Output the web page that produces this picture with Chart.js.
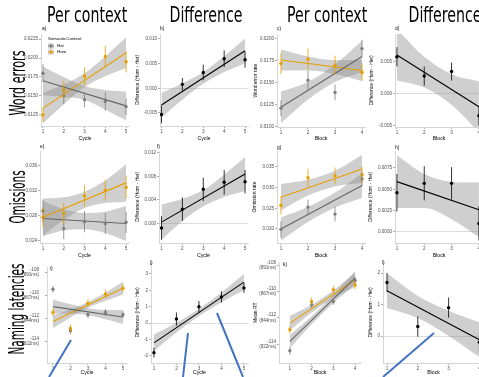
<!DOCTYPE html>
<html>
<head>
<meta charset="utf-8">
<script src="https://cdn.jsdelivr.net/npm/chart.js@4.4.0/dist/chart.umd.min.js"></script>
<style>
  body { margin: 0; background: #fff; }
  #fig { position: relative; width: 479px; height: 377px; overflow: hidden; background: #fff; }
  #fig canvas { position: absolute; }
  .lbl { position: absolute; white-space: nowrap; line-height: 1; color: #000;
         font-family: "Liberation Sans Narrow", "DejaVu Sans Condensed", "Roboto", sans-serif;
         font-stretch: condensed; font-size: 22px; }
  svg { position: absolute; left: 0; top: 0; }
</style>
</head>
<body>
<div id="fig"></div>
<script>
// ---- data ----
const cycles = [1, 2, 3, 4, 5];
const blocks = [1, 2, 3, 4];

// a) word errors per context by cycle
const aHet = [0.0180, 0.0150, 0.0145, 0.0143, 0.0136];
const aHetErr = [0.0012, 0.0011, 0.0010, 0.0012, 0.0011];
const aHom = [0.0125, 0.0158, 0.0176, 0.0202, 0.0195];
const aHomErr = [0.0009, 0.0012, 0.0012, 0.0014, 0.0014];
const aHetFit = [0.0170, 0.0137];
const aHomFit = [0.0134, 0.0207];
const aHetLo = [0.0151, 0.0149, 0.0145, 0.0132, 0.0118];
const aHetHi = [0.0189, 0.0175, 0.0163, 0.0158, 0.0156];
const aHomLo = [0.0114, 0.0139, 0.0162, 0.0176, 0.0187];
const aHomHi = [0.0154, 0.0165, 0.0180, 0.0202, 0.0227];

// b) word errors difference by cycle
const bDiff = [-0.0053, 0.0008, 0.0032, 0.0060, 0.0058];
const bErr = [0.0018, 0.0013, 0.0016, 0.0017, 0.0016];
const bFit = [-0.0034, 0.0076];
const bLo = [-0.0059, -0.0023, 0.0009, 0.0033, 0.0051];
const bHi = [-0.0009, 0.0010, 0.0033, 0.0065, 0.0101];

// c) word error rate per context by block
const cHet = [0.0121, 0.0153, 0.0139, 0.0189];
const cHetErr = [0.0009, 0.0011, 0.0009, 0.0010];
const cHom = [0.0172, 0.0177, 0.0170, 0.0162];
const cHomErr = [0.0012, 0.0012, 0.0011, 0.0010];
const cHetFit = [0.0122, 0.0180];
const cHomFit = [0.0176, 0.0164];
const cHetLo = [0.0104, 0.0131, 0.0151, 0.0162];
const cHetHi = [0.0140, 0.0151, 0.0171, 0.0198];
const cHomLo = [0.0164, 0.0164, 0.0160, 0.0152];
const cHomHi = [0.0188, 0.0180, 0.0176, 0.0176];

// d) word errors difference by block
const dDiff = [0.0058, 0.0028, 0.0035, -0.0034];
const dErr = [0.0015, 0.0015, 0.0014, 0.0015];
const dFit = [0.0061, -0.0020];
const dLo = [0.0021, 0.0010, -0.0017, -0.0060];
const dHi = [0.0101, 0.0058, 0.0031, 0.0020];

// e) omissions per context by cycle
const eHet = [0.0288, 0.0260, 0.0271, 0.0268, 0.0270];
const eHetErr = [0.0018, 0.0017, 0.0017, 0.0017, 0.0017];
const eHom = [0.0278, 0.0284, 0.0312, 0.0321, 0.0326];
const eHomErr = [0.0016, 0.0017, 0.0017, 0.0017, 0.0018];
const eHetFit = [0.0276, 0.0268];
const eHomFit = [0.0278, 0.0333];
const eHetLo = [0.0248, 0.0257, 0.0259, 0.0253, 0.0240];
const eHetHi = [0.0304, 0.0291, 0.0285, 0.0287, 0.0296];
const eHomLo = [0.0248, 0.0274, 0.0293, 0.0301, 0.0303];
const eHomHi = [0.0308, 0.0310, 0.0319, 0.0337, 0.0363];

// f) omissions difference by cycle
const fDiff = [-0.0008, 0.0024, 0.0058, 0.0070, 0.0071];
const fErr = [0.0020, 0.0020, 0.0020, 0.0021, 0.0020];
const fFit = [0.0002, 0.0084];
const fLo = [-0.0028, 0.0004, 0.0029, 0.0045, 0.0055];
const fHi = [0.0032, 0.0042, 0.0057, 0.0083, 0.0113];

// g) omission rate per context by block
const gHet = [0.0199, 0.0253, 0.0236, 0.0321];
const gHetErr = [0.0020, 0.0018, 0.0018, 0.0018];
const gHom = [0.0257, 0.0324, 0.0329, 0.0331];
const gHomErr = [0.0022, 0.0022, 0.0020, 0.0020];
const gHetFit = [0.0200, 0.0305];
const gHomFit = [0.0277, 0.0345];
const gHetLo = [0.0172, 0.0217, 0.0252, 0.0275];
const gHetHi = [0.0228, 0.0253, 0.0288, 0.0335];
const gHomLo = [0.0245, 0.0281, 0.0303, 0.0311];
const gHomHi = [0.0309, 0.0319, 0.0341, 0.0379];

// h) omissions difference by block
const hDiff = [0.0046, 0.0057, 0.0057, 0.0010];
const hErr = [0.0022, 0.0020, 0.0019, 0.0020];
const hFit = [0.0059, 0.0026];
const hLo = [0.0028, 0.0028, 0.0015, -0.0006];
const hHi = [0.0090, 0.0068, 0.0059, 0.0058];

// i) naming latencies per context by cycle
const iHet = [-109.5, -113.1, -111.7, -111.5, -111.7];
const iHetErr = [0.3, 0.3, 0.3, 0.3, 0.3];
const iHom = [-111.5, -112.9, -110.7, -109.9, -109.4];
const iHomErr = [0.35, 0.35, 0.35, 0.35, 0.35];
const iHetFit = [-111.0, -111.9];
const iHomFit = [-112.3, -109.4];
const iHetLo = [-111.6, -111.6, -111.75, -112.1, -112.5];
const iHetHi = [-110.4, -110.8, -111.15, -111.3, -111.3];
const iHomLo = [-112.85, -111.95, -111.1, -110.5, -109.95];
const iHomHi = [-111.75, -111.25, -110.6, -109.8, -108.85];

// j) naming latencies difference by cycle
const jDiff = [-1.8, 0.25, 1.0, 1.6, 2.15];
const jErr = [0.3, 0.4, 0.35, 0.35, 0.3];
const jFit = [-1.2, 2.5];
const jLo = [-1.7, -0.575, 0.43, 1.275, 2.0];
const jHi = [-0.7, 0.025, 0.87, 1.875, 3.0];

// k) mean RT per context by block
const kHet = [-114.5, -111.0, -110.75, -109.15];
const kHetErr = [0.3, 0.25, 0.25, 0.25];
const kHom = [-112.9, -110.75, -109.85, -109.5];
const kHomErr = [0.3, 0.3, 0.3, 0.3];
const kHetFit = [-113.8, -108.95];
const kHomFit = [-112.4, -109.1];
const kHetLo = [-114.3, -112.48, -110.87, -109.45];
const kHetHi = [-113.3, -111.88, -110.27, -108.45];
const kHomLo = [-112.95, -111.6, -110.5, -109.65];
const kHomHi = [-111.85, -111.0, -109.9, -108.55];

// l) naming latencies difference by block
const lDiff = [1.7, 0.3, 0.9, -0.2];
const lErr = [0.3, 0.32, 0.32, 0.3];
const lFit = [1.44, -0.12];
const lLo = [0.89, 0.57, 0.0, -0.67];
const lHi = [1.99, 1.27, 0.8, 0.43];

// tick labels
const rtTicks = [-114, -112, -110, -108];
const rtLabels = [['-114', '(822ms)'], ['-112', '(844ms)'], ['-110', '(867ms)'], ['-108', '(891ms)']];

// ---- styles ----
const GRAY = '#7f7f7f';
const GRAY_LINE = '#666666';
const ORANGE = '#E69F00';
const BLACK = '#000000';
const BAND = 'rgba(140,140,140,0.42)';
const TICK = '#4d4d4d';
const FONT = '"Liberation Sans", Arial, sans-serif';

const het = (xs, v, e, fit, lo, hi) => ({ xs, v, e, fit, lo, hi, c: GRAY, line: GRAY_LINE });
const hom = (xs, v, e, fit, lo, hi) => ({ xs, v, e, fit, lo, hi, c: ORANGE, line: ORANGE });
const dif = (xs, v, e, fit, lo, hi) => ({ xs, v, e, fit, lo, hi, c: BLACK, line: BLACK });

const DIFF_TITLE = 'Difference (Hom - Het)';

const panels = [
  { tag: 'a)', dx: 1, dy: -5, cl: 20, axis: 41, right: 130, top: 34, bottom: 126, ctop: 26, cbot: 142,
    x: [0.905, 5.14], y: [0.01105, 0.02316], xs: cycles, xTitle: 'Cycle', yTitle: '',
    yTicks: [0.0125, 0.015, 0.0175, 0.02, 0.0225], yLabels: ['0.0125', '0.0150', '0.0175', '0.0200', '0.0225'],
    legend: true,
    series: [het(cycles, aHet, aHetErr, aHetFit, aHetLo, aHetHi), hom(cycles, aHom, aHomErr, aHomFit, aHomLo, aHomHi)] },
  { tag: 'b)', dx: 0, dy: -5, cl: 135, axis: 160, right: 249, top: 34, bottom: 126, ctop: 26, cbot: 142,
    x: [0.93, 5.14], y: [-0.00764, 0.01101], xs: cycles, xTitle: 'Cycle', yTitle: DIFF_TITLE, zero: true,
    yTicks: [-0.005, 0, 0.005, 0.01], yLabels: ['-0.005', '0.000', '0.005', '0.010'],
    series: [dif(cycles, bDiff, bErr, bFit, bLo, bHi)] },
  { tag: 'c)', dx: 0, dy: -5, cl: 253, axis: 277, right: 366, top: 34, bottom: 127, ctop: 26, cbot: 142,
    x: [0.854, 4.11], y: [0.00995, 0.02057], xs: blocks, xTitle: 'Block', yTitle: 'Word error rate',
    yTicks: [0.01, 0.0125, 0.015, 0.0175, 0.02], yLabels: ['0.0100', '0.0125', '0.0150', '0.0175', '0.0200'],
    series: [het(blocks, cHet, cHetErr, cHetFit, cHetLo, cHetHi), hom(blocks, cHom, cHomErr, cHomFit, cHomLo, cHomHi)] },
  { tag: 'd)', dx: 0, dy: -5, cl: 369, axis: 395, right: 484, top: 34, bottom: 127, ctop: 26, cbot: 142,
    x: [0.93, 4.15], y: [-0.00516, 0.00937], xs: blocks, xTitle: 'Block', yTitle: DIFF_TITLE, zero: true,
    yTicks: [-0.005, 0, 0.005], yLabels: ['-0.005', '0.000', '0.005'],
    series: [dif(blocks, dDiff, dErr, dFit, dLo, dHi)] },

  { tag: 'e)', dx: 0, dy: -4, cl: 22, axis: 40, right: 130, top: 151, bottom: 243, ctop: 144, cbot: 259,
    x: [0.86, 5.14], y: [0.02368, 0.0384], xs: cycles, xTitle: 'Cycle', yTitle: '',
    yTicks: [0.024, 0.028, 0.032, 0.036], yLabels: ['0.024', '0.028', '0.032', '0.036'],
    series: [het(cycles, eHet, eHetErr, eHetFit, eHetLo, eHetHi), hom(cycles, eHom, eHomErr, eHomFit, eHomLo, eHomHi)] },
  { tag: 'f)', dx: -2, dy: -4, cl: 135, axis: 159, right: 249, top: 151, bottom: 243, ctop: 144, cbot: 259,
    x: [0.88, 5.14], y: [-0.00336, 0.01234], xs: cycles, xTitle: 'Cycle', yTitle: DIFF_TITLE, zero: true,
    yTicks: [0, 0.004, 0.008, 0.012], yLabels: ['0.000', '0.004', '0.008', '0.012'],
    series: [dif(cycles, fDiff, fErr, fFit, fLo, fHi)] },
  { tag: 'g)', dx: 0, dy: -3, cl: 252, axis: 277, right: 366, top: 151, bottom: 243, ctop: 144, cbot: 259,
    x: [0.854, 4.11], y: [0.01661, 0.03887], xs: blocks, xTitle: 'Block', yTitle: 'Omission rate',
    yTicks: [0.02, 0.025, 0.03, 0.035], yLabels: ['0.020', '0.025', '0.030', '0.035'],
    series: [het(blocks, gHet, gHetErr, gHetFit, gHetLo, gHetHi), hom(blocks, gHom, gHomErr, gHomFit, gHomLo, gHomHi)] },
  { tag: 'h)', dx: 0, dy: -3, cl: 368, axis: 395, right: 484, top: 151, bottom: 243, ctop: 144, cbot: 259,
    x: [0.93, 4.15], y: [-0.00129, 0.00949], xs: blocks, xTitle: 'Block', yTitle: DIFF_TITLE, zero: true,
    yTicks: [0, 0.0025, 0.005, 0.0075], yLabels: ['0.0000', '0.0025', '0.0050', '0.0075'],
    series: [dif(blocks, hDiff, hErr, hFit, hLo, hHi)] },

  { tag: 'i)', dx: 3, dy: 1, cl: 22, axis: 47, right: 128, top: 262, bottom: 363, ctop: 256, cbot: 376,
    x: [0.66, 5.23], y: [-115.89, -107.59], xs: cycles, xTitle: 'Cycle', yTitle: '', tpad: 6,
    yTicks: rtTicks, yLabels: rtLabels,
    series: [het(cycles, iHet, iHetErr, iHetFit, iHetLo, iHetHi), hom(cycles, iHom, iHomErr, iHomFit, iHomLo, iHomHi)] },
  { tag: 'j)', dx: -1, dy: 1, cl: 135, axis: 151, right: 249, top: 262, bottom: 363, ctop: 256, cbot: 376,
    x: [0.87, 5.18], y: [-2.43, 3.73], xs: cycles, xTitle: 'Cycle', yTitle: DIFF_TITLE, zero: true,
    yTicks: [-2, -1, 0, 1, 2, 3], yLabels: ['-2', '-1', '0', '1', '2', '3'],
    series: [dif(cycles, jDiff, jErr, jFit, jLo, jHi)] },
  { tag: 'k)', dx: 4, dy: 2, cl: 253, axis: 279, right: 362, top: 262, bottom: 363, ctop: 256, cbot: 376,
    x: [0.5, 4.27], y: [-115.44, -107.77], xs: blocks, xTitle: 'Block', yTitle: 'Mean RT',
    yTicks: rtTicks, yLabels: rtLabels,
    series: [het(blocks, kHet, kHetErr, kHetFit, kHetLo, kHetHi), hom(blocks, kHom, kHomErr, kHomFit, kHomLo, kHomHi)] },
  { tag: 'l)', dx: -1, dy: 1, cl: 368, axis: 383, right: 485, top: 262, bottom: 363, ctop: 256, cbot: 376,
    x: [0.87, 4.15], y: [-0.857, 2.35], xs: blocks, xTitle: 'Block', yTitle: DIFF_TITLE, zero: true,
    yTicks: [0, 1, 2], yLabels: ['0', '1', '2'],
    series: [dif(blocks, lDiff, lErr, lFit, lLo, lHi)] }
];

// ---- plugins ----
const errorBars = {
  id: 'errorBars',
  afterDatasetsDraw(chart) {
    const ctx = chart.ctx, ys = chart.scales.y;
    chart.data.datasets.forEach((ds, di) => {
      if (!ds.errors) return;
      const meta = chart.getDatasetMeta(di);
      ctx.save();
      ctx.strokeStyle = ds.pointBackgroundColor;
      ctx.lineWidth = 0.8;
      meta.data.forEach((pt, i) => {
        const v = ds.data[i].y, e = ds.errors[i];
        ctx.beginPath();
        ctx.moveTo(pt.x, ys.getPixelForValue(v - e));
        ctx.lineTo(pt.x, ys.getPixelForValue(v + e));
        ctx.stroke();
      });
      ctx.restore();
    });
  }
};

const panelTag = {
  id: 'panelTag',
  afterDraw(chart, args, opts) {
    const ctx = chart.ctx, a = chart.chartArea;
    ctx.save();
    ctx.fillStyle = '#000';
    ctx.font = '4.8px ' + FONT;
    ctx.textBaseline = 'middle';
    ctx.fillText(opts.text, a.left + opts.dx, a.top + opts.dy);
    if (opts.legend) {
      const lx = a.left + 7, ly = a.top + 5;
      ctx.font = '4.4px ' + FONT;
      ctx.fillText('SemanticContext', lx, ly);
      [['Het', GRAY, GRAY_LINE], ['Hom', ORANGE, ORANGE]].forEach((k, i) => {
        const y = ly + 7 + i * 6;
        ctx.fillStyle = '#d4d4d4';
        ctx.fillRect(lx, y - 2.5, 6, 5);
        ctx.strokeStyle = k[2];
        ctx.lineWidth = 0.8;
        ctx.beginPath();
        ctx.moveTo(lx, y); ctx.lineTo(lx + 6, y);
        ctx.moveTo(lx + 3, y - 2.5); ctx.lineTo(lx + 3, y + 2.5);
        ctx.stroke();
        ctx.fillStyle = k[1];
        ctx.beginPath(); ctx.arc(lx + 3, y, 1.2, 0, Math.PI * 2); ctx.fill();
        ctx.fillStyle = '#000';
        ctx.fillText(k[0], lx + 9, y);
      });
    }
    ctx.restore();
  }
};

// ---- build ----
const fig = document.getElementById('fig');
const xy = (xs, ys) => xs.map((x, i) => ({ x: x, y: ys[i] }));

function buildPanel(p) {
  const cv = document.createElement('canvas');
  const w = p.right + 3 - p.cl, h = p.cbot - p.ctop;
  cv.width = w; cv.height = h;
  cv.style.left = p.cl + 'px';
  cv.style.top = p.ctop + 'px';
  cv.style.width = w + 'px';
  cv.style.height = h + 'px';
  fig.appendChild(cv);

  const datasets = [];
  p.series.forEach(s => datasets.push({
    data: xy(s.xs, s.v), errors: s.e, showLine: false,
    pointRadius: 1.7, pointBorderWidth: 0, pointBackgroundColor: s.c, pointBorderColor: s.c
  }));
  p.series.forEach(s => datasets.push({
    data: [{ x: s.xs[0], y: s.fit[0] }, { x: s.xs[s.xs.length - 1], y: s.fit[1] }],
    borderColor: s.line, borderWidth: 1.1, pointRadius: 0, fill: false
  }));
  p.series.forEach(s => {
    datasets.push({ data: xy(s.xs, s.hi), fill: '+1', backgroundColor: BAND,
      borderColor: 'rgba(0,0,0,0)', borderWidth: 0, pointRadius: 0, cubicInterpolationMode: 'monotone' });
    datasets.push({ data: xy(s.xs, s.lo), fill: false,
      borderColor: 'rgba(0,0,0,0)', borderWidth: 0, pointRadius: 0, cubicInterpolationMode: 'monotone' });
  });

  const border = { display: true, color: '#cccccc', width: 0.8 };
  new Chart(cv, {
    type: 'line',
    data: { datasets: datasets },
    plugins: [errorBars, panelTag],
    options: {
      responsive: false,
      animation: false,
      devicePixelRatio: 1,
      events: [],
      layout: { padding: { top: p.top - p.ctop, right: 3, left: 0, bottom: 0 } },
      plugins: {
        legend: { display: false },
        tooltip: { enabled: false },
        panelTag: { text: p.tag, dx: p.dx, dy: p.dy, legend: !!p.legend }
      },
      scales: {
        x: {
          type: 'linear', min: p.x[0], max: p.x[1],
          afterBuildTicks: s => { s.ticks = p.xs.map(v => ({ value: v })); },
          afterFit: s => { s.height = p.cbot - p.bottom; },
          ticks: { autoSkip: false, maxRotation: 0, padding: 1, color: TICK,
                   font: { family: FONT, size: 4.6 }, callback: v => String(v) },
          grid: { drawOnChartArea: false, drawTicks: true, tickLength: 2, color: '#9a9a9a', lineWidth: 0.8 },
          border: border,
          title: { display: true, text: p.xTitle, color: '#000',
                   font: { family: FONT, size: 5.2 }, padding: { top: 0, bottom: 0 } }
        },
        y: {
          type: 'linear', min: p.y[0], max: p.y[1],
          afterBuildTicks: s => { s.ticks = p.yTicks.map(v => ({ value: v })); },
          afterFit: s => { s.width = p.axis - p.cl; },
          ticks: { autoSkip: false, padding: p.tpad || 1, color: TICK,
                   font: { family: FONT, size: 4.6, lineHeight: 1.15 },
                   callback: (v, i) => p.yLabels[i] },
          grid: {
            drawOnChartArea: !!p.zero, drawTicks: true, tickLength: 2, lineWidth: 0.8,
            color: c => (p.zero && c.tick && c.tick.value === 0) ? '#d2d2d2' : 'rgba(0,0,0,0)',
            tickColor: '#9a9a9a'
          },
          border: border,
          title: { display: !!p.yTitle, text: p.yTitle, color: '#000',
                   font: { family: FONT, size: 5 }, padding: { top: 0, bottom: 0 } }
        }
      }
    }
  });
}

panels.forEach(buildPanel);

// annotation strokes over the bottom row
const svgNS = 'http://www.w3.org/2000/svg';
const svg = document.createElementNS(svgNS, 'svg');
svg.setAttribute('width', 479); svg.setAttribute('height', 377);
[[49, 377, 71, 340], [183, 377, 188, 333], [217, 313, 243, 377], [383, 377, 434, 333]].forEach(s => {
  const ln = document.createElementNS(svgNS, 'line');
  ln.setAttribute('x1', s[0]); ln.setAttribute('y1', s[1]);
  ln.setAttribute('x2', s[2]); ln.setAttribute('y2', s[3]);
  ln.setAttribute('stroke', '#4374c4'); ln.setAttribute('stroke-width', 2);
  svg.appendChild(ln);
});
fig.appendChild(svg);

// column headers and row labels, squeezed to the widths in the figure
function addLabel(text, cx, cy, target, rotate) {
  const el = document.createElement('div');
  el.className = 'lbl';
  el.textContent = text;
  fig.appendChild(el);
  const w = el.offsetWidth, h = el.offsetHeight;
  el.style.left = (cx - w / 2) + 'px';
  el.style.top = (cy - h / 2) + 'px';
  el.style.transform = (rotate ? 'rotate(-90deg) ' : '') + 'scaleX(' + (target / w) + ')';
}
addLabel('Per context', 87, 15, 80, false);
addLabel('Difference', 205.5, 15, 73, false);
addLabel('Per context', 327, 15, 80, false);
addLabel('Difference', 444.5, 15, 73, false);
addLabel('Word errors', 17, 83, 65, true);
addLabel('Omissions', 17, 196.5, 53, true);
addLabel('Naming latencies', 17, 308.5, 91, true);
</script>
</body>
</html>
